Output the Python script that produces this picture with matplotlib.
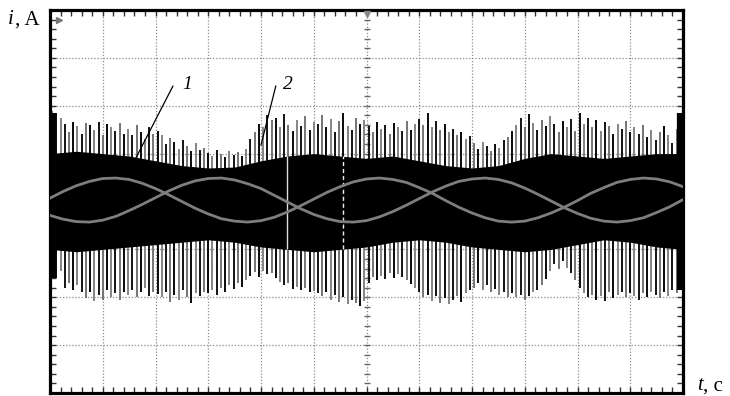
import numpy as np
import matplotlib
matplotlib.use("Agg")
import matplotlib.pyplot as plt

# ---------------- data (in screen divisions) ----------------
# sinusoidal phase currents (curve 1 and curve 2), sampled every 0.25 div
sine_x = [i * 0.25 for i in range(49)]
curve_a = [0.07, 0.21, 0.33, 0.42, 0.48, 0.49, 0.46, 0.38, 0.27, 0.14, 0.00, -0.14,
           -0.26, -0.36, -0.41, -0.43, -0.40, -0.33, -0.22, -0.09, 0.05, 0.19, 0.31, 0.41,
           0.47, 0.49, 0.46, 0.40, 0.29, 0.17, 0.02, -0.12, -0.24, -0.34, -0.41, -0.43,
           -0.41, -0.34, -0.24, -0.12, 0.02, 0.17, 0.29, 0.40, 0.46, 0.49, 0.47, 0.41, 0.31]
curve_b = [-0.29, -0.37, -0.42, -0.43, -0.39, -0.31, -0.19, -0.06, 0.08, 0.22, 0.34, 0.43,
           0.48, 0.49, 0.45, 0.37, 0.27, 0.13, -0.01, -0.15, -0.27, -0.36, -0.42, -0.43,
           -0.40, -0.32, -0.21, -0.08, 0.06, 0.20, 0.32, 0.42, 0.47, 0.49, 0.46, 0.39,
           0.28, 0.15, 0.01, -0.13, -0.25, -0.35, -0.41, -0.43, -0.40, -0.34, -0.23, -0.11, 0.04]

# switching spikes: one every 0.08 div starting at 0.04 div
spike_x = [0.04 + 0.08 * i for i in range(150)]
spike_top = [1.90, 1.85, 1.75,
             1.62, 1.45, 1.66, 1.58, 1.40, 1.64, 1.60, 1.50, 1.66, 1.38, 1.62, 1.55, 1.48, 1.64, 1.42,
             1.52, 1.38, 1.60, 1.45, 1.30, 1.55, 1.40, 1.48,
             1.38, 1.20, 1.32, 1.25, 1.10, 1.28, 1.15, 1.05, 1.22, 1.08, 1.12,
             1.02, 0.95, 1.08, 1.00, 0.92, 1.06, 0.98, 1.04, 0.95, 1.10,
             1.30, 1.45, 1.62, 1.55, 1.80, 1.70,
             1.74, 1.55, 1.82, 1.60, 1.48, 1.70, 1.58, 1.78, 1.50, 1.66,
             1.62, 1.80, 1.55, 1.72, 1.45, 1.68, 1.85, 1.58, 1.50, 1.75, 1.62, 1.70,
             1.58, 1.45, 1.66, 1.52, 1.60, 1.40, 1.64, 1.55, 1.48, 1.68, 1.50, 1.62,
             1.72, 1.60, 1.85, 1.55, 1.68, 1.50, 1.62, 1.45, 1.52, 1.38, 1.46, 1.30, 1.36,
             1.22, 1.10, 1.25, 1.15, 1.05, 1.20, 1.12, 1.28, 1.35, 1.48,
             1.60, 1.75, 1.55, 1.82, 1.65, 1.50, 1.70, 1.58, 1.78, 1.62, 1.45, 1.68, 1.55, 1.72, 1.48,
             1.85, 1.62, 1.75, 1.55, 1.70, 1.48, 1.66, 1.58, 1.42, 1.62, 1.52, 1.68, 1.45,
             1.55, 1.40, 1.60, 1.35, 1.50, 1.28, 1.45, 1.58, 1.38, 1.22, 1.52, 1.70]
spike_bot = [-1.50, -1.60, -1.45,
             -1.80, -1.70, -1.85, -1.75, -1.90,
             -2.02, -1.90, -2.08, -1.95, -2.05, -1.85, -2.00, -1.92, -2.06, -1.88,
             -1.95, -1.85, -2.00, -1.90, -1.80, -1.98, -1.88, -1.94,
             -2.00, -1.90, -2.10, -1.95, -2.05, -1.85, -2.00, -2.12, -1.92, -1.98, -1.88,
             -1.92, -1.85, -1.95, -1.80, -1.88, -1.75, -1.82, -1.70, -1.78, -1.65,
             -1.55, -1.48, -1.58, -1.45, -1.52, -1.50,
             -1.60, -1.68, -1.75, -1.70, -1.82, -1.78, -1.85, -1.80, -1.90, -1.86,
             -1.92, -1.98, -1.90, -2.05, -1.95, -2.10, -2.00, -2.15, -2.05, -2.12, -2.18, -2.08,
             -1.70, -1.58, -1.65, -1.55, -1.62, -1.50, -1.60, -1.52, -1.58, -1.65, -1.72, -1.80,
             -1.90, -2.00, -1.95, -2.08, -1.98, -2.12, -2.02, -2.15, -2.05, -1.98, -2.10, -1.92, -1.85,
             -1.80, -1.70, -1.85, -1.75, -1.90, -1.82, -1.95, -1.88, -2.00, -1.92,
             -2.00, -1.95, -2.05, -1.98, -1.90, -1.85, -1.75, -1.62,
             -1.45, -1.30, -1.40, -1.25, -1.38, -1.50, -1.65,
             -1.80, -1.92, -2.00, -1.95, -2.05, -1.98, -2.08, -1.90, -2.02, -1.95, -1.88, -2.00, -1.92,
             -1.98, -2.05, -1.92, -2.00, -1.88, -1.95, -2.02, -1.90, -1.98, -1.85, -1.92, -1.80]

# dense black ripple band, edges every 0.5 div
band_x = [i * 0.5 for i in range(25)]
band_top = [1.00, 1.05, 1.00, 0.95, 0.85, 0.75, 0.70, 0.72, 0.85, 0.95, 1.00, 0.95, 0.90,
            0.95, 0.85, 0.75, 0.70, 0.75, 0.90, 1.00, 0.95, 0.90, 0.95, 1.00, 1.00]
band_bot = [-1.00, -1.05, -1.00, -0.95, -0.90, -0.85, -0.80, -0.85, -0.95, -1.00, -1.05, -1.00,
            -0.95, -0.85, -0.80, -0.85, -0.95, -1.00, -1.05, -1.00, -0.90, -0.80, -0.85, -0.95, -1.00]

x_div, y_div = 12, 8
serif = "Liberation Serif"

# ---------------- figure ----------------
fig = plt.figure(figsize=(7.3, 3.96), dpi=100)
ax = fig.add_axes([50 / 730, 3 / 396, 633 / 730, 383 / 396])
ax.set_xlim(0, x_div)
ax.set_ylim(-y_div / 2, y_div / 2)

# grid
for gx in range(1, x_div):
    ax.axvline(gx, color="#8c8c8c", lw=0.9, ls=(0, (1, 1.5)), zorder=1)
for gy in range(-3, 4):
    ax.axhline(gy, color="#8c8c8c", lw=0.9, ls=(0, (1, 1.5)), zorder=1)

# centre crosshair minor marks
cy = np.arange(-4, 4.01, 0.2)
ax.plot([6] * len(cy), cy, ls="none", marker="_", ms=5, mew=1.0, color="#666666", zorder=1.5)
cx = np.arange(0, 12.01, 0.2)
ax.plot(cx, [0] * len(cx), ls="none", marker="|", ms=5, mew=1.0, color="#666666", zorder=1.5)

# spikes
cols = ["#6e6e6e", "black", "#808080", "#0a0a0a"]
for i, (sx, t, b) in enumerate(zip(spike_x, spike_top, spike_bot)):
    c = cols[i % 4]
    ax.vlines(sx, b, t, color=c, lw=1.35, zorder=2)

# dense band
ax.fill_between(band_x, band_bot, band_top, color="black", lw=0, zorder=3)

# edge bars
ax.vlines(0.06, -1.6, 1.85, color="black", lw=4.5, zorder=3)
ax.vlines(11.94, -1.85, 1.85, color="black", lw=4.5, zorder=3)

# white cursor streaks
ax.vlines(4.5, -1.0, 0.95, color="#dddddd", lw=1.0, zorder=3.5)
ax.vlines(5.55, -1.0, 0.95, color="#eeeeee", lw=1.0, ls=(0, (3, 2)), zorder=3.5)

# sinusoidal curves
ax.plot(sine_x, curve_a, color="#7e7e7e", lw=2.0, zorder=4)
ax.plot(sine_x, curve_b, color="#7e7e7e", lw=2.0, zorder=4)

# leader lines and labels
ax.plot([2.33, 1.61], [2.41, 0.87], color="black", lw=0.9, zorder=5)
ax.plot([4.28, 4.00], [2.41, 1.18], color="black", lw=0.9, zorder=5)
ax.text(2.6, 2.45, "1", fontsize=14, fontstyle="italic", family=serif,
        ha="center", va="center", zorder=6)
ax.text(4.5, 2.45, "2", fontsize=14, fontstyle="italic", family=serif,
        ha="center", va="center", zorder=6)

# small scope markers
ax.plot([0.18], [3.8], marker=">", ms=5, color="#777777", clip_on=False, zorder=6)
ax.plot([6.0], [3.92], marker="v", ms=5, color="#888888", clip_on=False, zorder=6)

# frame & ticks
for s in ax.spines.values():
    s.set_linewidth(2.3)
    s.set_color("black")
ax.set_xticks(np.arange(0, 12.01, 0.2))
ax.set_yticks(np.arange(-4, 4.01, 0.2))
ax.tick_params(direction="in", length=4, width=1.0, color="#333333",
               top=True, right=True, labelbottom=False, labelleft=False)

# axis labels
fig.text(8 / 730, 1 - 20 / 396, "i", fontsize=15, fontstyle="italic",
         family=serif, ha="left", va="center")
fig.text(15 / 730, 1 - 20 / 396, ", A", fontsize=15,
         family=serif, ha="left", va="center")
fig.text(697 / 730, 1 - 386 / 396, "t", fontsize=15, fontstyle="italic",
         family=serif, ha="left", va="center")
fig.text(703 / 730, 1 - 386 / 396, ", c", fontsize=15,
         family=serif, ha="left", va="center")

fig.savefig("out.png", dpi=100, facecolor="white")
